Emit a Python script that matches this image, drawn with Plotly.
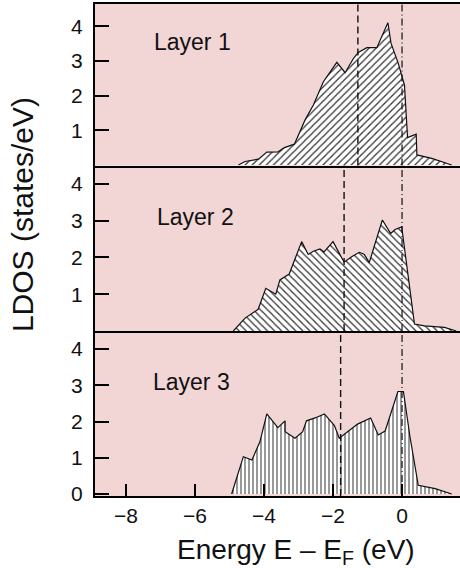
import plotly.graph_objects as go
from plotly.subplots import make_subplots

# Layer-resolved density of states, energies relative to the Fermi level (eV)
energy_layer1 = [-4.74, -4.55, -4.16, -3.92, -3.59, -3.41, -3.12, -2.81, -2.57, -2.28,
                 -1.89, -1.65, -1.41, -1.27, -1.02, -0.73, -0.41, -0.32, -0.11, 0.07,
                 0.16, 0.41, 0.43, 0.86, 1.44]
ldos_layer1 = [0.00, 0.10, 0.17, 0.37, 0.38, 0.50, 0.60, 1.30, 1.73, 2.40,
               2.96, 2.66, 3.07, 3.24, 3.38, 3.38, 4.10, 3.51, 2.93, 2.30,
               0.79, 0.89, 0.29, 0.19, 0.00]

energy_layer2 = [-4.89, -4.55, -4.17, -3.95, -3.66, -3.54, -3.27, -3.10, -2.91, -2.72,
                 -2.57, -2.38, -2.26, -2.00, -1.68, -1.46, -1.24, -1.10, -0.95, -0.81,
                 -0.57, -0.33, -0.20, -0.01, 0.36, 0.65, 1.23, 1.57]
ldos_layer2 = [0.00, 0.35, 0.59, 1.16, 1.00, 1.39, 1.55, 1.98, 2.43, 2.08,
               2.17, 2.23, 2.15, 2.43, 1.87, 2.02, 2.14, 2.09, 1.86, 2.29,
               3.02, 2.65, 2.76, 2.83, 0.19, 0.14, 0.10, 0.00]

energy_layer3 = [-4.94, -4.60, -4.35, -4.12, -3.92, -3.60, -3.39, -3.39, -3.10, -2.88,
                 -2.77, -2.52, -2.25, -1.96, -1.82, -1.56, -1.29, -0.91, -0.69, -0.49,
                 -0.30, -0.12, 0.04, 0.23, 0.47, 0.96, 1.44]
ldos_layer3 = [0.00, 1.03, 0.94, 1.44, 2.21, 1.83, 2.02, 1.72, 1.54, 1.72,
               2.02, 2.10, 2.21, 1.89, 1.54, 1.72, 1.93, 2.10, 1.63, 1.74,
               2.27, 2.83, 2.83, 1.58, 0.24, 0.15, 0.00]

layer_names = ["Layer 1", "Layer 2", "Layer 3"]
band_centers = [-1.28, -1.68, -1.78]      # dashed markers
fermi_level = [0.0, 0.0, 0.0]             # dash-dot markers
x_ticks = [-8, -6, -4, -2, 0]
y_ticks_upper = [1, 2, 3, 4]
y_ticks_lower = [0, 1, 2, 3, 4]

FONT = "Liberation Sans, Arial, Helvetica, sans-serif"
PINK = "#f2d5d5"
INK = "#111111"

energies = [energy_layer1, energy_layer2, energy_layer3]
ldos = [ldos_layer1, ldos_layer2, ldos_layer3]
hatches = ["/", "\\", "|"]
hatch_sizes = [5, 5, 4]

fig = make_subplots(rows=3, cols=1, shared_xaxes=True, vertical_spacing=0)

for i in range(3):
    fig.add_trace(
        go.Scatter(
            x=energies[i], y=ldos[i], mode="lines",
            line=dict(color=INK, width=1.2),
            fill="tozeroy", fillcolor="white",
            fillpattern=dict(shape=hatches[i], size=hatch_sizes[i], solidity=0.25,
                             fgcolor="#333333", bgcolor="white", fillmode="replace"),
            showlegend=False, hoverinfo="skip",
        ),
        row=i + 1, col=1,
    )
    fig.add_vline(x=band_centers[i], line=dict(color=INK, width=1.4, dash="7px,4px"),
                  row=i + 1, col=1)
    fig.add_vline(x=fermi_level[i], line=dict(color=INK, width=1.2, dash="7px,3px,1px,3px"),
                  row=i + 1, col=1)

# panel layout (top to bottom)
domains = [[0.6717, 1.0], [0.3354, 0.6717], [0.0, 0.3354]]
y_ranges = [[-0.015, 4.64], [0.0, 4.5], [-0.055, 4.5]]
label_pos = [(-7.25, 3.55), (-7.16, 3.10), (-7.28, 3.09)]

axis_common = dict(showgrid=False, zeroline=False, showline=True,
                   linecolor="black", linewidth=2)

for i in range(3):
    n = "" if i == 0 else str(i + 1)
    fig.layout["yaxis" + n].update(
        domain=domains[i], range=y_ranges[i],
        tickvals=y_ticks_lower if i == 2 else y_ticks_upper,
        ticks="inside", ticklen=14, tickwidth=2, tickcolor="black",
        ticklabelstandoff=6,
        tickfont=dict(family=FONT, size=21, color=INK),
        **axis_common,
    )
    xa = dict(range=[-8.9, 1.68], **axis_common)
    if i == 2:
        xa.update(tickvals=x_ticks, ticks="inside", ticklen=12, tickwidth=2,
                  tickcolor="black", showticklabels=True, ticklabelstandoff=0,
                  tickfont=dict(family=FONT, size=21, color=INK))
    else:
        xa.update(ticks="", showticklabels=False, mirror=(i == 0))
    fig.layout["xaxis" + n].update(**xa)

    fig.add_annotation(
        x=label_pos[i][0], y=label_pos[i][1], xref="x" + n, yref="y" + n,
        text=layer_names[i], showarrow=False, xanchor="left", yanchor="middle",
        font=dict(family=FONT, size=23, color=INK),
    )

fig.add_annotation(
    x=-0.2, y=0.571, xref="paper", yref="paper", text="LDOS (states/eV)",
    textangle=-90, showarrow=False, xanchor="center", yanchor="middle",
    font=dict(family=FONT, size=30, color=INK),
)
fig.add_annotation(
    x=0.552, y=-0.112, xref="paper", yref="paper",
    text="Energy E \u2013 E<sub>F</sub> (eV)",
    showarrow=False, xanchor="center", yanchor="middle",
    font=dict(family=FONT, size=28, color=INK),
)

fig.update_layout(
    width=460, height=568,
    margin=dict(l=95, r=0, t=4, b=72),
    plot_bgcolor=PINK, paper_bgcolor="white",
    font=dict(family=FONT, color=INK),
)

fig.write_html("out.html")
